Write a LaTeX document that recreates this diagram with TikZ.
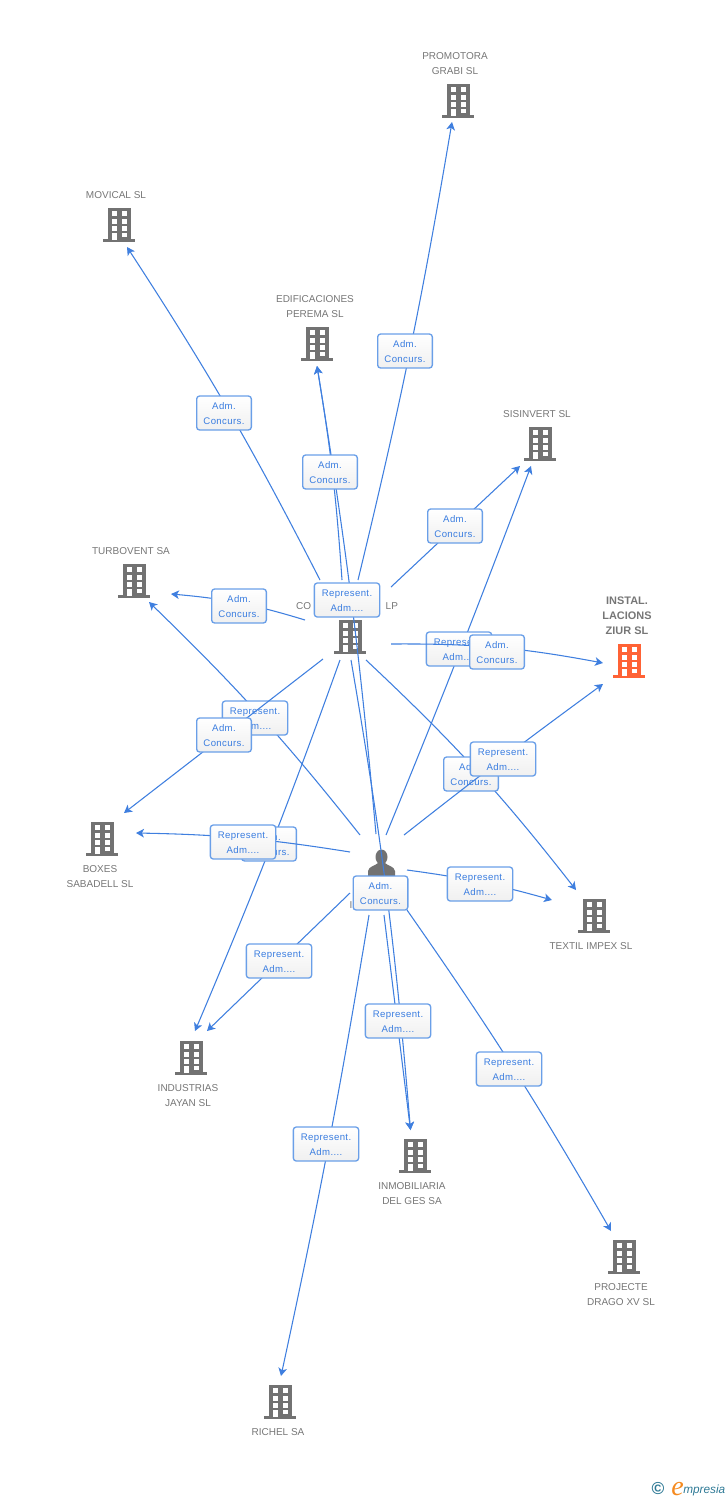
\documentclass[tikz,border=0pt]{standalone}
\usepackage{fontspec}
\setmainfont{Liberation Sans}
\newfontfamily\boxfont[LetterSpace=4]{Liberation Sans}
\newfontfamily\logofont{Liberation Serif}
\usetikzlibrary{arrows.meta}
\definecolor{linkblue}{HTML}{3F7FDF}
\definecolor{boxblue}{HTML}{6A9FE8}
\definecolor{boxtext}{HTML}{3A7DE0}
\definecolor{icongray}{HTML}{727272}
\definecolor{textgray}{HTML}{767676}
\definecolor{mainorange}{HTML}{FF6235}
\definecolor{logoblue}{HTML}{2F7A96}
\definecolor{logoorange}{HTML}{F58A1F}
\tikzset{
  linkline/.style={draw=linkblue,line width=0.8pt,-{Stealth[length=6pt,width=6.5pt,inset=1.6pt]}},
  linkbox/.style={draw=boxblue,line width=1pt,rounded corners=2.2pt,top color=white,bottom color=white!94!black,
    minimum height=25.5pt,inner sep=0pt,align=center,text=boxtext,font=\boxfont\fontsize{7.2}{11.25}\selectfont},
  admbox/.style={linkbox,minimum width=41pt},
  repbox/.style={linkbox,minimum width=49pt},
  firmname/.style={text=textgray,align=center,inner sep=0pt,font=\fontsize{7.5}{11.25}\selectfont},
  mainname/.style={firmname,font=\bfseries\fontsize{8.2}{11.25}\selectfont}
}
% building icon: name, centre x, centre y, colour
\newcommand\bldg[4]{%
  \begin{scope}[shift={(#2,#3)}]
    \coordinate (#1) at (0,0);
    \fill[#4] (-11,-17) rectangle (12,15);
    \fill[#4] (-16,14) rectangle (16,16.5);
    \foreach \wx in {-7,3}{\foreach \wy in {-14,-6.5,1}{\fill[white] (\wx,\wy) rectangle ++(5.3,5);}}
    \fill[white] (-7,7.5) rectangle (-1.7,15);
    \fill[white] (3,7.5) rectangle (8.3,12);
  \end{scope}}
\newcommand\linkl[4][]{%
  \coordinate (#2-s) at (#3);
  \coordinate (#2-e) at (#4);
  \draw[linkline] (#2-s) to[#1] (#2-e);}
\newcommand\adm[2]{\node[admbox] (#1-l) at (#2) {\rule{0pt}{6.7pt}Adm.\\Concurs.};}
\newcommand\rep[2]{\node[repbox] (#1-l) at (#2) {\rule{0pt}{6.7pt}Represent.\\Adm....};}
\begin{document}
\begin{tikzpicture}[x=0.75pt,y=-0.75pt]
\useasboundingbox (0,0) rectangle (728,1500);
% names
\node[firmname] (nPromo) at (455,63.5) {PROMOTORA\\GRABI SL};
\node[firmname] (nMov) at (116,195) {MOVICAL SL};
\node[firmname] (nEdif) at (315,306.5) {EDIFICACIONES\\PEREMA SL};
\node[firmname] (nSis) at (537,414) {SISINVERT SL};
\node[firmname] (nTurbo) at (131,551) {TURBOVENT SA};
\node[mainname] (nMain) at (627,616) {INSTAL.\\LACIONS\\ZIUR SL};
\node[firmname] (nBox) at (100,876.5) {BOXES\\SABADELL SL};
\node[firmname] (nText) at (591,946) {TEXTIL IMPEX SL};
\node[firmname] (nInd) at (188,1095.5) {INDUSTRIAS\\JAYAN SL};
\node[firmname] (nInm) at (412,1193.5) {INMOBILIARIA\\DEL GES SA};
\node[firmname] (nProj) at (621,1294.5) {PROJECTE\\DRAGO XV SL};
\node[firmname] (nRich) at (278,1432) {RICHEL SA};
\node[firmname] (nComp) at (347,606) {CO\hspace{56pt}LP};
\node[firmname] (nPers) at (351,905) {I};
% icons
\bldg{bPromo}{458}{101}{icongray}
\bldg{bMov}{119}{225}{icongray}
\bldg{bEdif}{317}{344}{icongray}
\bldg{bSis}{540}{444}{icongray}
\bldg{bTurbo}{134}{581}{icongray}
\bldg{bComp}{350}{637}{icongray}
\bldg{bMain}{629}{661}{mainorange}
\bldg{bBox}{102}{839}{icongray}
\bldg{bText}{594}{916}{icongray}
\bldg{bInd}{191}{1058}{icongray}
\bldg{bInm}{415}{1156}{icongray}
\bldg{bProj}{624}{1257}{icongray}
\bldg{bRich}{280}{1402}{icongray}
% person icon
\fill[icongray] (381.5,857) ellipse (6 and 7.5);
\fill[icongray] (368,880) -- (368,871) .. controls (369,866) and (375,866) .. (378,863) -- (385,863) .. controls (388,866) and (394,866) .. (395,871) -- (395,880) -- cycle;
% company links drawn lowest
\linkl[bend left=1.6]{c8}{340,660}{195,1031}
\adm{c8}{269,844}
\linkl[bend left=4.4]{c10}{366,660}{576,890}
\adm{c10}{471,774}
\linkl[bend left=2.5]{c9}{351,660}{410.5,1130}
% person links
\linkl[bend right=3.7]{pa}{360,835}{149,602}
\rep{pa}{255,718}
\linkl[bend right=0.8]{pb}{386,835}{531,466}
\rep{pb}{459,649}
\linkl[bend left=1]{pc}{404,835}{603,684}
\rep{pc}{503,759}
\linkl[bend left=4]{pd}{407,870}{552,900}
\rep{pd}{480,884}
\linkl[bend right=4]{pe}{350,852}{136,833}
\rep{pe}{243,842}
\linkl{pf}{350,893}{207,1031}
\rep{pf}{279,961}
\linkl{pg}{384,915}{410.5,1130}
\rep{pg}{398,1021}
\linkl[bend left=2.5]{ph}{407,910}{611,1231}
\rep{ph}{509,1069}
\linkl[bend left=1.4]{pi}{369,915}{281,1376}
\rep{pi}{326,1144}
\linkl[bend right=2]{pj}{376,834}{317,366}
\rep{pj}{347,600}
% remaining company links
\linkl[bend right=2]{c1}{358,580}{452,122}
\adm{c1}{405,351}
\linkl[bend right=3]{c2}{320,580}{127,247}
\adm{c2}{224,413}
\linkl[bend right=2.7]{c3}{342,580}{317,366}
\adm{c3}{330,472}
\linkl{c4}{391,587}{520,466}
\adm{c4}{455,526}
\linkl[bend right=6]{c5}{305,620}{171,594}
\adm{c5}{239,606}
\linkl[bend left=5.5]{c6}{391,644}{603,663}
\adm{c6}{497,652}
\linkl{c7}{323,659}{124,813}
\adm{c7}{224,735}
\adm{c9}{380.5,893}
% logo
\node[inner sep=0pt,text=logoblue,font=\bfseries\fontsize{13}{13}\selectfont] (logoC) at (658,1488) {©};
\node[inner sep=0pt,anchor=base,text=logoorange,font=\logofont\itshape\fontsize{21}{21}\selectfont] (logoE) at (677.5,1495) {e};
\node[inner sep=0pt,anchor=base west,text=logoblue,font=\itshape\fontsize{8.85}{10}\selectfont] (logoT) at (683,1493) {mpresia};
\end{tikzpicture}
\end{document}
